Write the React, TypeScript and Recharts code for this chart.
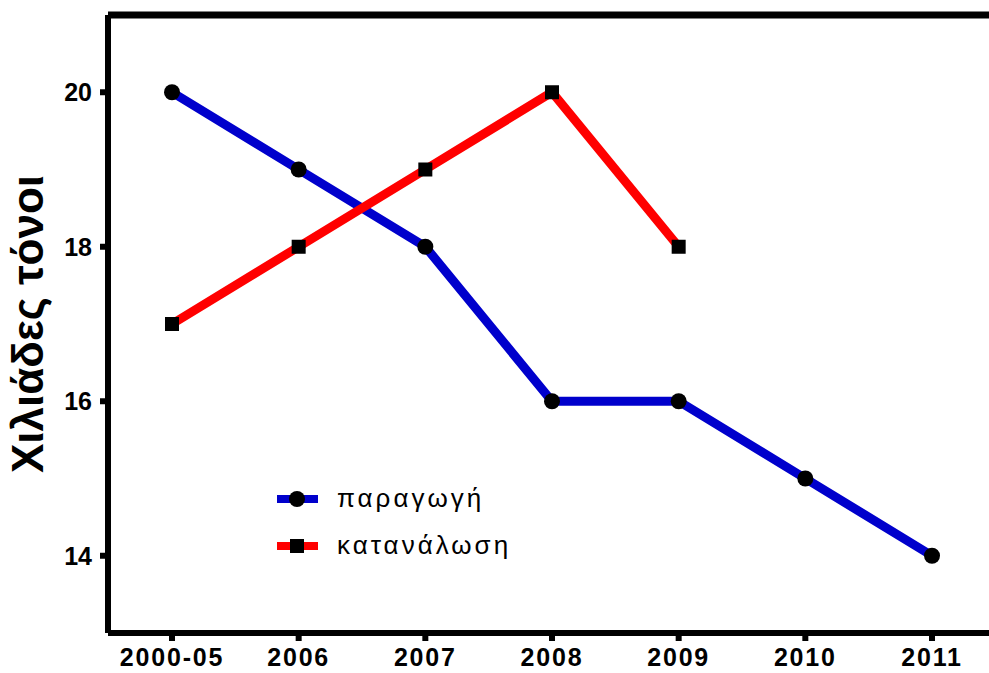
import { LineChart, Line, XAxis, YAxis, ReferenceLine } from "recharts"

const years = ["2000-05", "2006", "2007", "2008", "2009", "2010", "2011"]
const production = [20, 19, 18, 16, 16, 15, 14]
const consumption: (number | null)[] = [17, 18, 19, 20, 18, null, null]
const yTicks = [14, 16, 18, 20]

const data = years.map((year, i) => ({
  year,
  production: production[i],
  consumption: consumption[i],
}))

const FONT = "'Liberation Sans', Arial, sans-serif"
const BLUE = "#0000cc"
const RED = "#ff0000"

const CircleDot = (props: any) => {
  const { cx, cy } = props
  if (cx == null || cy == null) return null
  return <circle cx={cx} cy={cy} r={8} fill="#000" />
}

const SquareDot = (props: any) => {
  const { cx, cy, value } = props
  if (cx == null || cy == null || value == null) return null
  return <rect x={cx - 7} y={cy - 7} width={14} height={14} fill="#000" />
}

const legendItems = [
  { label: "παραγωγή", color: BLUE, shape: "circle" },
  { label: "κατανάλωση", color: RED, shape: "square" },
]

// legend drawn as a plain overlay so it doesn't eat chart space
const LegendBox = () => (
  <div
    style={{
      position: "absolute",
      left: 275,
      top: 475,
      fontFamily: FONT,
      fontSize: 26,
      color: "#000",
    }}
  >
    {legendItems.map((it) => (
      <div key={it.label} style={{ display: "flex", alignItems: "center", height: 47 }}>
        <svg width={62} height={20}>
          <line x1={2} x2={43} y1={10} y2={10} stroke={it.color} strokeWidth={8} />
          {it.shape === "circle" ? (
            <circle cx={22} cy={10} r={8} fill="#000" />
          ) : (
            <rect x={15} y={3} width={14} height={14} fill="#000" />
          )}
        </svg>
        <span style={{ letterSpacing: 3 }}>{it.label}</span>
      </div>
    ))}
  </div>
)

export default function App() {
  return (
    <div
      style={{
        position: "absolute",
        left: 0,
        top: 0,
        width: 989,
        height: 673,
        overflow: "hidden",
        background: "#fff",
      }}
    >
      <LineChart
        width={996}
        height={673}
        data={data}
        margin={{ top: 15, right: 0, bottom: 0, left: 48 }}
      >
        <XAxis
          dataKey="year"
          padding={{ left: 64, right: 64 }}
          height={40}
          axisLine={{ stroke: "#000", strokeWidth: 6 }}
          tickLine={{ stroke: "#000", strokeWidth: 6 }}
          tickSize={8}
          tickMargin={7}
          tick={{ fill: "#000", fontSize: 25, fontWeight: "bold", fontFamily: FONT, letterSpacing: 1.8 }}
        />
        <YAxis
          domain={[13, 21]}
          ticks={yTicks}
          width={60}
          axisLine={{ stroke: "#000", strokeWidth: 6 }}
          tickLine={{ stroke: "#000", strokeWidth: 6 }}
          tickSize={8}
          tickMargin={8}
          tick={{ fill: "#000", fontSize: 25, fontWeight: "bold", fontFamily: FONT }}
          label={{
            value: "Χιλιάδες τόνοι",
            angle: -90,
            position: "insideLeft",
            offset: -21,
            style: { fill: "#000", fontSize: 44, fontWeight: "bold", fontFamily: FONT, textAnchor: "middle" },
          }}
        />
        <ReferenceLine y={21} stroke="#000" strokeWidth={7} />
        <Line
          dataKey="production"
          stroke={BLUE}
          strokeWidth={9}
          dot={<CircleDot />}
          activeDot={false}
          isAnimationActive={false}
        />
        <Line
          dataKey="consumption"
          stroke={RED}
          strokeWidth={9}
          dot={<SquareDot />}
          activeDot={false}
          isAnimationActive={false}
        />
      </LineChart>
      <LegendBox />
    </div>
  )
}
